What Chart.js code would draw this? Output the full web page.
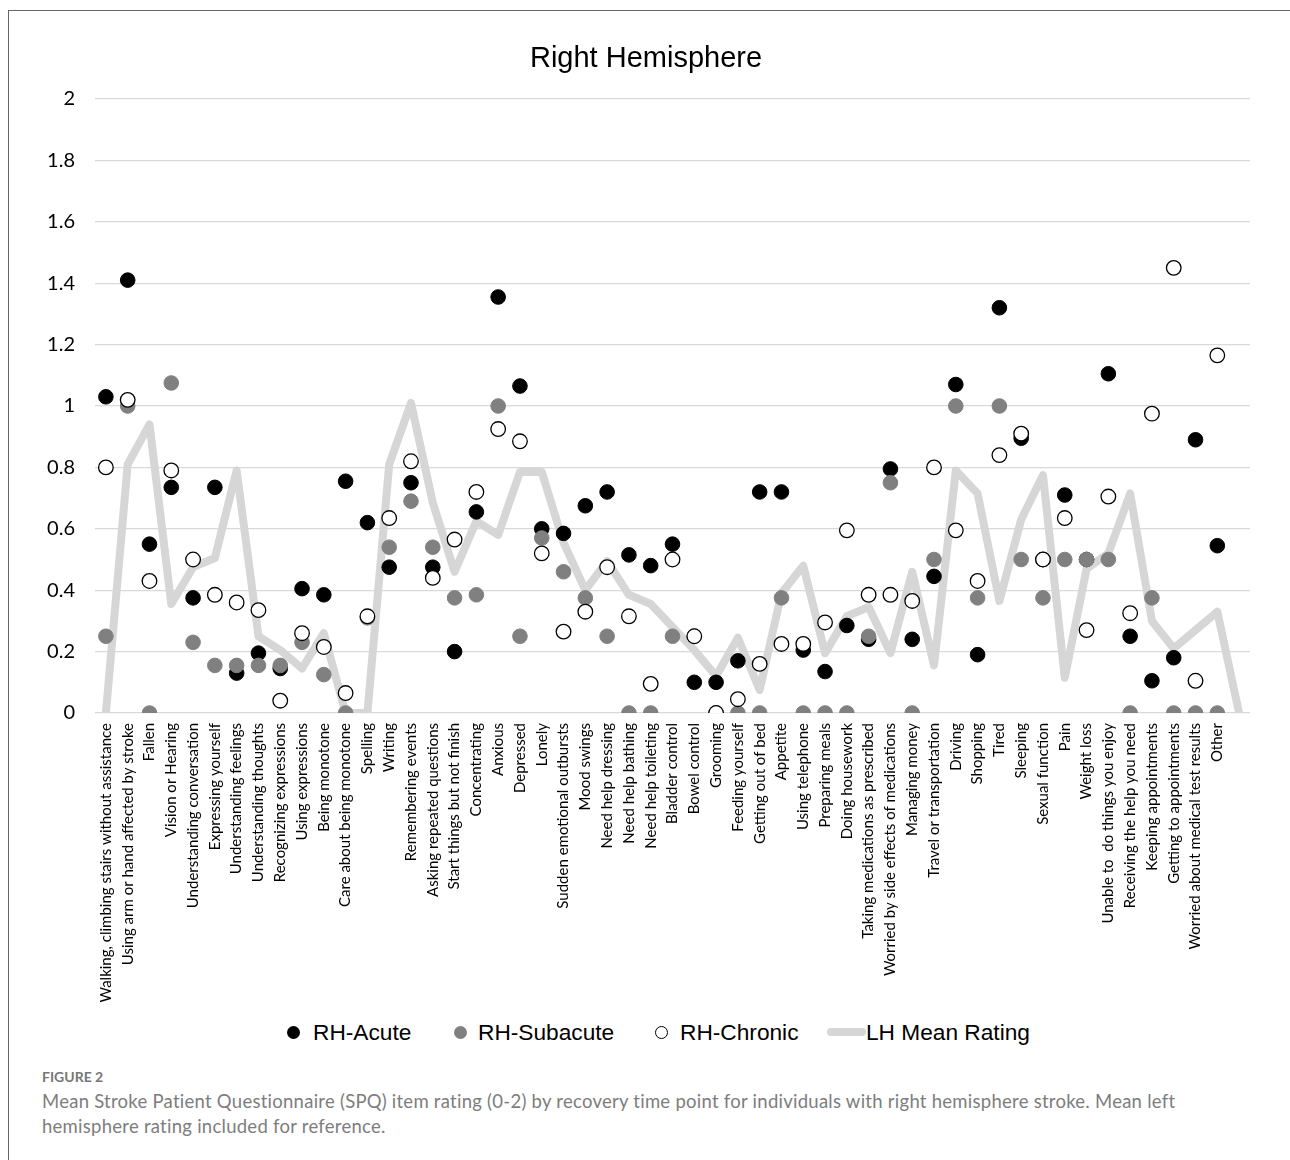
<!doctype html>
<html lang="en">
<head>
    <meta charset="UTF-8">
    <title>Right Hemisphere - SPQ item rating</title>
    <script src="https://cdn.jsdelivr.net/npm/chart.js"></script>
    <style>
        body {
            margin: 0;
            background: #fff;
            width: 1290px;
            height: 1160px;
            overflow: hidden;
            position: relative;
        }
        .frame {
            position: absolute;
            left: 8px;
            top: 10px;
            width: 1300px;
            height: 1160px;
            border-left: 1.5px solid #666;
            border-top: 1.5px solid #666;
        }
        .chart-container {
            position: absolute;
            left: 0;
            top: 0;
            width: 1290px;
            height: 1013px;
        }
        .legend {
            position: absolute;
            left: 0;
            top: 1017px;
            width: 1290px;
            height: 30px;
            font-family: "Liberation Sans", Arial, sans-serif;
            font-size: 22.7px;
            color: #000;
        }
        .legend .txt { position: absolute; top: 0; line-height: 30px; }
        .legend .dot {
            position: absolute;
            top: 8.5px;
            width: 13px;
            height: 13px;
            border-radius: 50%;
            box-sizing: border-box;
        }
        .legend .bar {
            position: absolute;
            top: 11px;
            width: 39px;
            height: 8px;
            border-radius: 4px;
            background: #d6d6d6;
        }
        .caption {
            position: absolute;
            left: 42px;
            top: 1068px;
            font-family: Lato, "Open Sans", sans-serif;
            color: #7d7d7d;
        }
        .caption .fig {
            font-size: 14px;
            font-weight: bold;
            color: #777;
            margin-bottom: 4px;
        }
        .caption .text {
            font-size: 18.5px;
            letter-spacing: 0.26px;
            line-height: 25px;
        }
    </style>
</head>
<body>
<div class="frame"></div>

<div class="chart-container">
    <canvas id="rhChart"></canvas>
</div>

<!-- legend -->
<div class="legend">
    <span class="dot" style="left:286.5px;background:#000"></span>
    <span class="txt" style="left:313px">RH-Acute</span>
    <span class="dot" style="left:453.5px;background:#808080"></span>
    <span class="txt" style="left:478px">RH-Subacute</span>
    <span class="dot" style="left:654.5px;background:#fff;border:1.3px solid #000"></span>
    <span class="txt" style="left:680px">RH-Chronic</span>
    <span class="bar" style="left:827px"></span>
    <span class="txt" style="left:866px">LH Mean Rating</span>
</div>

<div class="caption">
    <div class="fig">FIGURE 2</div>
    <div class="text">Mean Stroke Patient Questionnaire (SPQ) item rating (0-2) by recovery time point for individuals with right hemisphere stroke. Mean left<br>hemisphere rating included for reference.</div>
</div>

<script>
    // SPQ items (last slot is blank, the LH line runs one step further)
    const items = [
        'Walking, climbing stairs without assistance', 'Using arm or hand affected by stroke', 'Fallen',
        'Vision or Hearing', 'Understanding conversation', 'Expressing yourself', 'Understanding feelings',
        'Understanding thoughts', 'Recognizing expressions', 'Using expressions', 'Being monotone',
        'Care about being monotone', 'Spelling', 'Writing', 'Remembering events', 'Asking repeated questions',
        'Start things but not finish', 'Concentrating', 'Anxious', 'Depressed', 'Lonely',
        'Sudden emotional outbursts', 'Mood swings', 'Need help dressing', 'Need help bathing',
        'Need help toileting', 'Bladder control', 'Bowel control', 'Grooming', 'Feeding yourself',
        'Getting out of bed', 'Appetite', 'Using telephone', 'Preparing meals', 'Doing housework',
        'Taking medications as prescribed', 'Worried by side effects of medications', 'Managing money',
        'Travel or transportation', 'Driving', 'Shopping', 'Tired', 'Sleeping', 'Sexual function', 'Pain',
        'Weight loss', 'Unable to  do things you enjoy', 'Receiving the help you need', 'Keeping appointments',
        'Getting to appointments', 'Worried about medical test results', 'Other', ''
    ];

    const rhAcute = [1.03, 1.41, 0.55, 0.735, 0.375, 0.735, 0.13, 0.195, 0.145, 0.405, 0.385, 0.755, 0.62,
        0.475, 0.75, 0.475, 0.2, 0.655, 1.355, 1.065, 0.6, 0.585, 0.675, 0.72, 0.515, 0.48, 0.55, 0.1, 0.1,
        0.17, 0.72, 0.72, 0.205, 0.135, 0.285, 0.24, 0.795, 0.24, 0.445, 1.07, 0.19, 1.32, 0.895, 0.5, 0.71,
        0.5, 1.105, 0.25, 0.105, 0.18, 0.89, 0.545, null];

    const rhSubacute = [0.25, 1.0, 0, 1.075, 0.23, 0.155, 0.155, 0.155, 0.155, 0.23, 0.125, 0, 0.31, 0.54,
        0.69, 0.54, 0.375, 0.385, 1.0, 0.25, 0.57, 0.46, 0.375, 0.25, 0, 0, 0.25, 0.25, 0, 0, 0, 0.375, 0, 0,
        0, 0.25, 0.75, 0, 0.5, 1.0, 0.375, 1.0, 0.5, 0.375, 0.5, 0.5, 0.5, 0, 0.375, 0, 0, 0, null];

    const rhChronic = [0.8, 1.02, 0.43, 0.79, 0.5, 0.385, 0.36, 0.335, 0.04, 0.26, 0.215, 0.065, 0.315,
        0.635, 0.82, 0.44, 0.565, 0.72, 0.925, 0.885, 0.52, 0.265, 0.33, 0.475, 0.315, 0.095, 0.5, 0.25, 0,
        0.045, 0.16, 0.225, 0.225, 0.295, 0.595, 0.385, 0.385, 0.365, 0.8, 0.595, 0.43, 0.84, 0.91, 0.5,
        0.635, 0.27, 0.705, 0.325, 0.975, 1.45, 0.105, 1.165, null];

    const lhMean = [0, 0.81, 0.94, 0.355, 0.475, 0.505, 0.79, 0.25, 0.205, 0.145, 0.26, 0, 0, 0.81, 1.01,
        0.685, 0.46, 0.625, 0.58, 0.785, 0.785, 0.555, 0.4, 0.495, 0.385, 0.355, 0.28, 0.205, 0.12, 0.245,
        0.075, 0.39, 0.48, 0.195, 0.315, 0.345, 0.195, 0.46, 0.155, 0.79, 0.715, 0.365, 0.63, 0.775, 0.115,
        0.47, 0.52, 0.715, 0.3, 0.21, 0.27, 0.33, 0];

    const yTicks = [0, 0.2, 0.4, 0.6, 0.8, 1, 1.2, 1.4, 1.6, 1.8, 2];
    const yTickLabels = ['0', '0.2', '0.4', '0.6', '0.8', '1', '1.2', '1.4', '1.6', '1.8', '2'];

    const dotRadius = 7.3;

    const ctx = document.getElementById('rhChart').getContext('2d');
    const rhChart = new Chart(ctx, {
        type: 'line',
        data: {
            labels: items,
            datasets: [{
                label: 'RH-Acute',
                data: rhAcute,
                showLine: false,
                pointRadius: dotRadius,
                pointHoverRadius: dotRadius,
                pointBackgroundColor: '#000',
                pointBorderColor: '#000',
                pointBorderWidth: 1,
                order: 3
            }, {
                label: 'RH-Subacute',
                data: rhSubacute,
                showLine: false,
                pointRadius: dotRadius,
                pointHoverRadius: dotRadius,
                pointBackgroundColor: '#808080',
                pointBorderColor: '#808080',
                pointBorderWidth: 1,
                order: 2
            }, {
                label: 'RH-Chronic',
                data: rhChronic,
                showLine: false,
                pointRadius: dotRadius,
                pointHoverRadius: dotRadius,
                pointBackgroundColor: '#fff',
                pointBorderColor: '#000',
                pointBorderWidth: 1.3,
                order: 1
            }, {
                label: 'LH Mean Rating',
                data: lhMean,
                borderColor: '#d6d6d6',
                borderWidth: 8,
                borderJoinStyle: 'round',
                pointRadius: 0,
                tension: 0,
                fill: false,
                order: 4
            }]
        },
        options: {
            responsive: true,
            maintainAspectRatio: false,
            animation: false,
            layout: {
                // left pad nudges the title towards the plot centre (labels still fit in the y scale)
                padding: { top: 42, right: 40, left: 42, bottom: 0 }
            },
            plugins: {
                legend: { display: false },
                tooltip: { enabled: false },
                title: {
                    display: true,
                    text: 'Right Hemisphere',
                    color: '#000',
                    font: { family: '"Liberation Sans", Arial, sans-serif', size: 29, weight: 'normal' },
                    padding: { top: 0, bottom: 22.2 }
                }
            },
            scales: {
                x: {
                    type: 'category',
                    offset: true,
                    grid: { display: false, drawTicks: false },
                    border: { display: false },
                    ticks: {
                        autoSkip: false,
                        minRotation: 90,
                        maxRotation: 90,
                        padding: 10,
                        color: '#000',
                        font: { family: 'Lato, "Open Sans", sans-serif', size: 15 }
                    },
                    afterFit: function(scale) { scale.height = 300; }
                },
                y: {
                    min: 0,
                    max: 2,
                    grid: { color: '#d9d9d9', lineWidth: 1.3, drawTicks: false },
                    border: { display: false },
                    afterBuildTicks: function(scale) {
                        scale.ticks = yTicks.map(function(v) { return { value: v }; });
                    },
                    ticks: {
                        padding: 20,
                        color: '#000',
                        font: { family: 'Lato, "Open Sans", sans-serif', size: 20 },
                        callback: function(value) {
                            const i = yTicks.indexOf(value);
                            return i >= 0 ? yTickLabels[i] : '';
                        }
                    },
                    afterFit: function(scale) { scale.width = 53; }
                }
            }
        }
    });
</script>
</body>
</html>
